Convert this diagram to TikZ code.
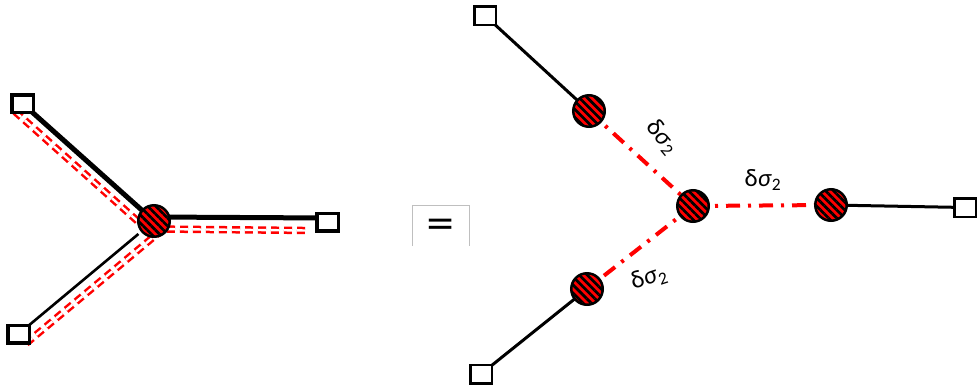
\documentclass[tikz,border=0pt]{standalone}
\usepackage{fontspec}
\newfontfamily\lblfont{Carlito}
\newfontfamily\eqfont{DejaVu Sans}
\usetikzlibrary{patterns.meta,backgrounds,calc}

\tikzset{
  term/.style={draw, fill=white, rectangle, inner sep=0pt},
  termL/.style={term, line width=3.5pt, minimum width=21.5pt, minimum height=17.5pt},
  termR/.style={term, line width=2.5pt, minimum width=21.5pt, minimum height=18.5pt},
  vertex/.style={circle, draw, line width=2.5pt, fill=red, minimum size=31.5pt, inner sep=0pt,
    postaction={pattern={Lines[angle=-45,distance=5.7pt,line width=2.7pt]}, pattern color=black}},
  legthick/.style={line width=5pt},
  legthin/.style={line width=2.6pt},
  redpair/.style={draw=red, line width=2.5pt, double=white, double distance=2.4pt,
    dash pattern=on 8pt off 5pt},
  prop/.style={draw=red, line width=4pt, dash pattern=on 14pt off 8pt on 3pt off 8pt},
  bond/.style={line width=3pt},
  lbl/.style={font=\lblfont\fontsize{25}{27}\selectfont, inner sep=0pt}
}

\begin{document}
\begin{tikzpicture}[x=1pt, y=-1pt]
\useasboundingbox (0,0) rectangle (978,389);

% ---- left: single vertex with three legs ----
\node[vertex] (lc) at (154,221) {};
\node[termL] (ltl) at (22.5,103.5) {};
\node[termL] (lr)  at (327.5,222) {};
\node[termL] (lbl) at (18.5,334) {};

\begin{scope}[on background layer]
  \draw[legthick] (ltl.center) -- (lc.center);
  \draw[legthick] ($(lc.center)+(0,-4)$) -- ($(lr.center)+(0,-4)$);
  \draw[legthin]  (lbl.center) -- ($(lbl.center)!0.885!(lc.center)$);
  \draw[redpair] ($(ltl.center)!11pt!-90:(lc.center)$) -- ($(lc.center)!11pt!90:(ltl.center)$);
  \draw[redpair] ($(lc.center)+(0,8)$) -- ($(lr.west)+(-7,8.5)$);
  \draw[redpair] ($(lbl.center)!12pt!-90:(lc.center)$) -- ($(lc.center)!12pt!90:(lbl.center)$);
\end{scope}

% ---- equals sign in its frame ----
\node[font=\eqfont\fontsize{36}{36}\selectfont, inner sep=0pt] (eq) at (441,227) {=};
\draw[black!25, line width=1pt]
  ($(eq.center)+(-29,19)$) -- ($(eq.center)+(-29,-22)$) -- ($(eq.center)+(28,-22)$) -- ($(eq.center)+(28,19)$);

% ---- right: expanded tree ----
\node[vertex] (va) at (589,111) {};
\node[vertex] (vb) at (693,206) {};
\node[vertex] (vc) at (831,205) {};
\node[vertex] (vd) at (587,289) {};
\node[termR] (ta) at (485,15.5) {};
\node[termR] (tc) at (965,207.5) {};
\node[termR] (td) at (481,374) {};

\begin{scope}[on background layer]
  \draw[bond] (ta.center) -- (va.center);
  \draw[bond] (vc.center) -- (tc.center);
  \draw[bond] (td.center) -- (vd.center);
  \draw[prop] (va.center) -- (vb.center);
  \draw[prop] (vb.center) -- (vc.center);
  \draw[prop] (vb.center) -- (vd.center);
\end{scope}

\node[lbl, rotate=-50] (la) at (662,137) {δ\textit{σ}\textsubscript{2}};
\node[lbl] (lb) at (763,180) {δ\textit{σ}\textsubscript{2}};
\node[lbl, rotate=18] (ld) at (649,278) {δ\textit{σ}\textsubscript{2}};
\end{tikzpicture}
\end{document}
